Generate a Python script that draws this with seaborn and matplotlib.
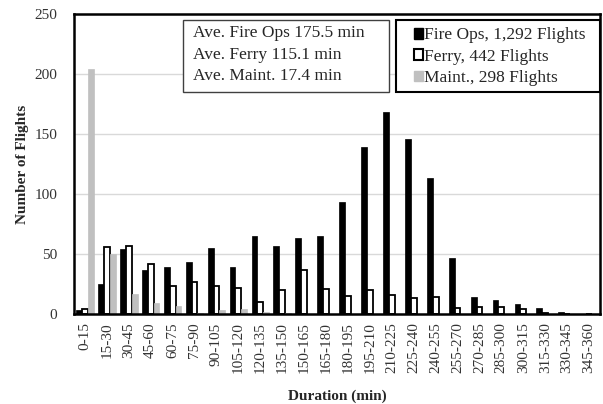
import matplotlib
matplotlib.use("Agg")
import matplotlib.pyplot as plt
import seaborn as sns
import pandas as pd
from matplotlib.patches import Patch, Rectangle

bins = ["0-15", "15-30", "30-45", "45-60", "60-75", "75-90", "90-105", "105-120",
        "120-135", "135-150", "150-165", "165-180", "180-195", "195-210", "210-225",
        "225-240", "240-255", "255-270", "270-285", "285-300", "300-315", "315-330",
        "330-345", "345-360"]
fire_ops = [3, 25, 54, 37, 39, 43, 55, 39, 65, 57, 63, 65, 93, 139, 168, 146, 113,
            47, 14, 12, 8, 5, 2, 0]
ferry = [4, 56, 57, 42, 23, 27, 23, 22, 10, 20, 37, 21, 15, 20, 16, 13, 14,
         5, 6, 6, 4, 1, 0, 0]
maint = [204, 50, 17, 9, 7, 1, 3, 4, 2, 1, 0, 0, 0, 0, 0, 0, 0,
         0, 0, 0, 0, 0, 0, 0]
series = ["Fire Ops, 1,292 Flights", "Ferry, 442 Flights", "Maint., 298 Flights"]
avg_lines = ["Ave. Fire Ops 175.5 min", "Ave. Ferry 115.1 min", "Ave. Maint. 17.4 min"]

sns.set_theme(style="white")
plt.rcParams["font.family"] = ["Liberation Serif", "DejaVu Serif"]

df = pd.DataFrame({
    "bin": bins * 3,
    "count": fire_ops + ferry + maint,
    "series": [series[0]] * len(bins) + [series[1]] * len(bins) + [series[2]] * len(bins),
})

colors = ["#000000", "#ffffff", "#c0c0c0"]

fig = plt.figure(figsize=(6.03, 4.04), dpi=100)
ax = fig.add_axes([0.1227, 0.2228, 0.8723, 0.7426])

sns.barplot(data=df, x="bin", y="count", hue="series", hue_order=series,
            palette=colors, order=bins, ax=ax, width=0.8, legend=False,
            saturation=1)

for cont, col in zip(ax.containers, colors):
    for p in cont.patches:
        if col == "#ffffff":
            p.set_edgecolor("black")
            p.set_linewidth(1.3)
        else:
            p.set_edgecolor(col)
            p.set_linewidth(0.5)

ax.set_ylim(0, 250)
ax.set_xlim(-0.5, len(bins) - 0.5)
ax.set_yticks(range(0, 251, 50))
ax.yaxis.grid(True, color="#d9d9d9", linewidth=1)
ax.set_axisbelow(True)
for s in ax.spines.values():
    s.set_visible(True)
    s.set_color("black")
    s.set_linewidth(1.8)

ax.tick_params(axis="y", labelsize=11, length=0, pad=12, labelcolor="#333333")
ax.tick_params(axis="x", labelsize=11, rotation=90, length=0, pad=6, labelcolor="#333333")

ax.set_xlabel("Duration (min)", fontsize=11, fontweight="bold", labelpad=12)
ax.set_ylabel("Number of Flights", fontsize=11, fontweight="bold", labelpad=4)

# averages box
ax.add_patch(Rectangle((0.2072, 0.74), 0.3916, 0.24, transform=ax.transAxes,
                       facecolor="white", edgecolor="#404040", linewidth=1,
                       zorder=5, clip_on=False))
for line, yy in zip(avg_lines, [0.9367, 0.8633, 0.7933]):
    ax.text(0.2262, yy, line, transform=ax.transAxes, fontsize=12.5,
            va="center", ha="left", zorder=6)

# legend box
ax.add_patch(Rectangle((0.6122, 0.74), 0.3878, 0.24, transform=ax.transAxes,
                       facecolor="white", edgecolor="black", linewidth=1.5,
                       zorder=5, clip_on=False))
handles = [Patch(facecolor="#000000", edgecolor="#000000"),
           Patch(facecolor="#ffffff", edgecolor="#000000", linewidth=1.5),
           Patch(facecolor="#c0c0c0", edgecolor="#c0c0c0")]
leg = ax.legend(handles, series, loc="upper left", bbox_to_anchor=(0.646, 0.955),
                fontsize=12.5, frameon=False, handlelength=0.55,
                handleheight=0.55, handletextpad=0.05, labelspacing=0.3,
                borderpad=0, borderaxespad=0)
leg.set_zorder(7)

fig.savefig("out.png", dpi=100)
